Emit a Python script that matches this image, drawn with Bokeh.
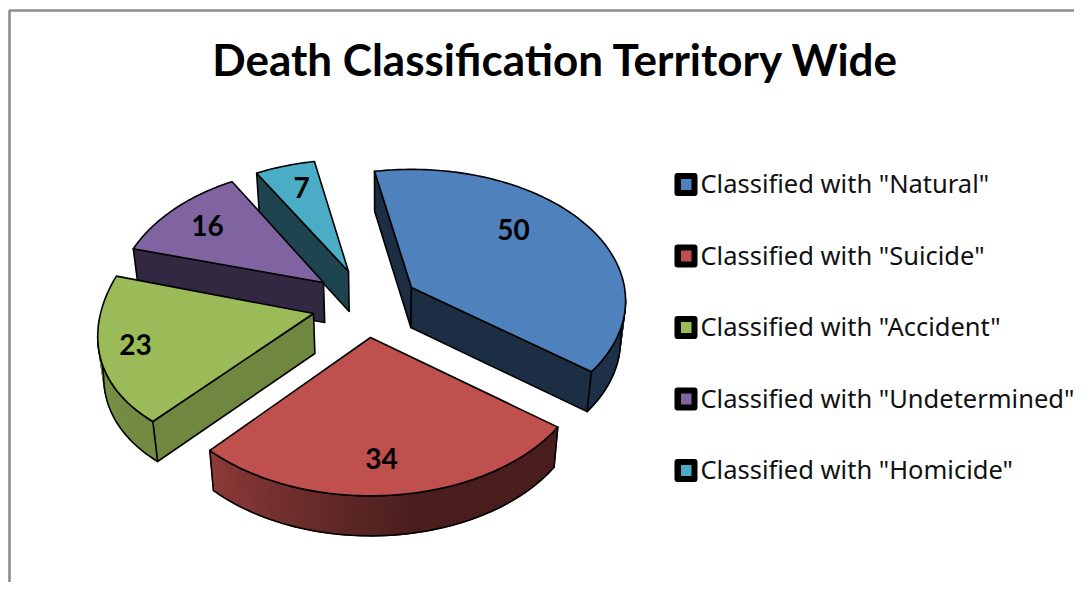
import math
from bokeh.plotting import figure
from bokeh.models import Range1d
from bokeh.core.properties import value
from bokeh.embed import file_html
from bokeh.resources import INLINE

# ---- data ----
categories = ['Classified with "Natural"', 'Classified with "Suicide"', 'Classified with "Accident"',
              'Classified with "Undetermined"', 'Classified with "Homicide"']
values = [50, 34, 23, 16, 7]
colors = ["#4f81bd", "#c0504d", "#9bbb59", "#8064a2", "#4bacc6"]
title = "Death Classification Territory Wide"

# ---- layout (reference pixels) ----
apexes = [(411, 287), (370, 337), (313, 313), (323, 282), (348, 271)]
scale_x = [1.0, 1.0, 1.0, 0.965, 0.97]
scale_y = [0.977, 1.0, 1.07, 1.0, 0.975]
persp_x = [0.10, 0.16, 0.16, 0.16, 0.16]
persp_y = [0.10, 0.16, 0.02, 0.16, 0.16]
label_pos = [(513, 229), (381, 458), (135, 344), (207, 225), (301, 187)]
wall_shade = [0.36, 0.38, 0.72, 0.40, 0.40]
legend_y = [184, 255.5, 327, 398.5, 470]
legend_text_dy = -1.5
draw_order = [4, 3, 0, 2, 1]
START = -11.0
RX, RY, DEPTH, VX, VK = 213.0, 133.0, 40.0, 380.0, 0.021

W, H = 1074, 582
p = figure(width=W, height=H, x_range=Range1d(0, W), y_range=Range1d(H, 0),
           x_axis_type=None, y_axis_type=None, toolbar_location=None, output_backend="svg",
           min_border=0, outline_line_color=None, background_fill_color="white",
           border_fill_color="white")
p.grid.visible = False

# frame
p.line([9, 9, W], [H, 10, 10], line_color="#8c8c8c", line_width=2.6)


def mix(c, f):
    return "#%02x%02x%02x" % tuple(int(round(int(c[i:i + 2], 16) * f)) for i in (1, 3, 5))


def proj(a, th, i):
    t = math.radians(th)
    X, Y = math.sin(t), math.cos(t)
    return (a[0] + scale_x[i] * RX * X / (1 + persp_x[i] * Y),
            a[1] - scale_y[i] * RY * Y / (1 + persp_y[i] * Y))


def low(pt):
    return pt[0] + (VX - pt[0]) * VK, pt[1] + DEPTH


def arc_shade(th):
    th = th % 360
    if th <= 170:
        return 0.38
    if th <= 222:
        return 0.38 + (th - 170) / 52 * 0.36
    return 0.74 + (th - 222) / 64 * 0.06


LINE = dict(line_color="#000000", line_width=1.6, line_join="round")
total = sum(values)
spans = []
a0 = START
for v in values:
    a1 = a0 + v / total * 360
    spans.append((a0, a1))
    a0 = a1

for i in draw_order:
    a, (t0, t1), col = apexes[i], spans[i], colors[i]
    n = max(4, int(t1 - t0))
    ths = [t0 + (t1 - t0) * k / n for k in range(n + 1)]
    arc = [proj(a, t, i) for t in ths]
    wall_col = mix(col, wall_shade[i])
    # radial walls (visible when the clockwise edge walks leftwards on screen)
    for b, c in ((a, arc[0]), (arc[-1], a)):
        if c[0] < b[0]:
            lb, lc = low(b), low(c)
            p.patch([b[0], c[0], lc[0], lb[0]], [b[1], c[1], lc[1], lb[1]], fill_color=wall_col, **LINE)
    # outer wall strips
    run_top = []
    for k in range(n):
        b, c = arc[k], arc[k + 1]
        if c[0] < b[0]:
            lb, lc = low(b), low(c)
            sc = mix(col, arc_shade((ths[k] + ths[k + 1]) / 2))
            p.patch([b[0], c[0], lc[0], lb[0]], [b[1], c[1], lc[1], lb[1]], fill_color=sc, line_color=sc,
                    line_width=1.3)
            if not run_top:
                run_top.append(b)
            run_top.append(c)
    if run_top:
        ring = run_top + [low(q) for q in run_top][::-1]
        p.patch([q[0] for q in ring], [q[1] for q in ring], fill_color=None, **LINE)
    # top face
    poly = [a] + arc
    p.patch([q[0] for q in poly], [q[1] for q in poly], fill_color=col, **LINE)

# value labels
p.text([q[0] for q in label_pos], [q[1] for q in label_pos], text=[str(v) for v in values],
       text_font=value("Lato"), text_font_style="bold", text_font_size="28px", text_color="#000000",
       text_align="center", text_baseline="middle")

# title
p.text([555.5], [58], text=[title], text_font=value("Lato"), text_font_style="bold",
       text_font_size="44px", text_color="#000000", text_align="center", text_baseline="middle")

# legend
p.quad(left=[674] * 5, right=[697] * 5, top=[y - 11.5 for y in legend_y], bottom=[y + 11.5 for y in legend_y],
       fill_color="#000000", line_color=None, border_radius=3)
p.quad(left=[680.5] * 5, right=[691] * 5, top=[y - 5.5 for y in legend_y], bottom=[y + 5.5 for y in legend_y],
       fill_color=colors, line_color=None)
p.text([700] * 5, [y + legend_text_dy for y in legend_y], text=categories, text_font=value("Noto Sans"),
       text_font_size="25.5px", text_color="#111111", text_align="left", text_baseline="middle")

open("out.html", "w").write(file_html(p, INLINE))
